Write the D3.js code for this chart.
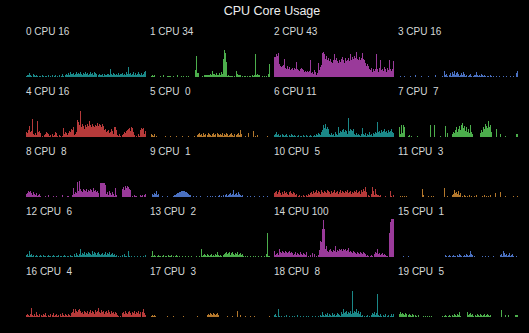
<!DOCTYPE html>
<html lang="en">
<head>
    <meta charset="utf-8">
    <title>CPU Core Usage</title>
    <script src="https://d3js.org/d3.v7.min.js"></script>
    <style>
        body{
            margin: 0;
            background: #000;
        }
        text{
            font-family: "Liberation Sans", Arial, sans-serif;
        }
    </style>
</head>
<body>
<div class="chart"></div>
<script>

    // one row per core, 120 samples each, percent busy
    var cpu0 = [3,6,4,11,5,3,0,8,4,2, 5,3,0,2,3,0,4,2,0,3, 2,0,4,0,3,1,5,0,2,6, 0,3,0,4,0,2,8,3,0,5,
        9,5,10,6,12,8,7,11,6,9, 13,8,10,7,12,9,6,11,8,13, 7,10,5,9,12,8,11,6,14,10, 9,0,4,8,6,5,9,3,8,6,
        4,7,9,6,22,8,5,10,7,4, 9,6,11,5,8,7,10,6,9,5, 12,8,26,7,11,5,9,13,6,10, 4,8,14,7,5,11,6,9,12,16];
    var cpu1 = [0,3,5,3,4,0,0,0,0,0, 3,0,0,5,0,0,0,3,3,3, 3,0,0,3,0,0,0,5,0,0, 0,3,0,3,0,0,3,0,3,0,
        0,0,0,0,0,18,55,10,10,0, 0,0,3,0,5,4,5,6,5,6, 8,5,15,7,8,5,10,5,4,10, 6,12,8,47,70,62,39,3,4,3,
        3,2,3,0,3,0,16,8,5,5, 5,0,3,0,3,3,0,3,0,3, 3,0,4,3,5,60,6,8,5,4, 0,0,3,0,3,0,3,0,8,34];
    var cpu2 = [52,52,60,55,62,34,30,26,28,31, 47,24,22,28,20,26,18,22,25,19, 23,21,39,20,18,16,22,24,20,18, 14,17,13,15,12,16,44,10,14,8,
        18,12,6,11,38,18,26,32,62,65, 60,48,55,44,50,42,47,40,38,45, 60,44,50,42,38,46,40,48,52,44, 38,49,42,46,50,41,60,45,52,48,
        55,50,66,48,44,52,46,50,64,48, 44,36,30,34,28,22,18,24,14,20, 16,22,60,20,14,24,46,18,22,16, 26,20,14,24,18,44,20,16,22,43];
    var cpu3 = [0,0,3,0,0,0,3,0,0,0, 0,0,3,0,0,0,0,5,0,0, 0,0,0,3,0,0,0,0,0,0, 3,0,0,0,0,0,0,5,0,0,
        0,0,0,0,3,0,17,5,8,3, 0,5,10,3,13,8,15,5,10,13, 8,3,5,10,6,13,8,3,5,0, 3,5,8,3,0,3,5,5,13,5,
        3,5,3,8,5,3,5,3,0,3, 3,0,5,3,0,3,0,0,3,0, 0,3,0,0,0,3,0,0,3,0, 0,0,3,0,0,3,0,0,10,16];
    var cpu4 = [13,10,18,29,13,16,47,8,5,10, 6,42,13,16,10,0,3,0,5,8, 13,10,8,3,5,0,8,3,5,13, 10,3,0,5,3,0,3,23,8,13,
        10,5,10,16,13,21,18,26,5,8, 13,44,39,31,68,26,34,29,21,31, 26,34,29,42,31,26,34,29,26,31, 28,36,29,34,31,26,34,29,18,21,
        13,16,18,10,13,21,16,8,26,26, 18,5,3,8,3,0,5,8,13,10, 16,18,21,23,16,26,23,13,5,0, 3,0,8,3,18,23,21,23,8,16];
    var cpu5 = [0,8,5,3,8,0,3,0,0,0, 0,0,0,0,0,3,0,0,0,0, 3,0,0,0,0,0,3,0,0,0, 0,0,3,0,0,0,0,0,3,0,
        0,0,0,0,3,0,0,5,8,10, 5,8,3,10,5,8,0,5,10,8, 5,3,8,10,5,8,0,10,8,5, 8,5,10,3,8,5,10,8,3,5,
        8,10,5,3,8,0,5,8,10,5, 18,8,0,0,0,3,0,0,10,0, 0,0,0,15,0,3,0,5,0,0, 0,0,0,0,0,0,0,3,0,0];
    var cpu6 = [5,8,13,5,8,3,5,0,8,5, 3,5,8,3,0,5,3,8,5,3, 5,3,0,3,5,0,3,3,0,5, 3,0,5,3,0,3,5,3,0,3,
        5,3,8,5,10,8,5,13,18,31, 23,34,21,26,21,8,5,10,5,8, 3,13,8,5,26,10,16,13,18,21, 13,18,16,8,49,16,21,18,16,21,
        8,5,10,5,8,5,3,8,23,8, 5,10,3,8,5,13,5,8,3,10, 8,13,10,39,13,16,10,18,13,16, 21,13,16,10,18,13,16,21,13,11];
    var cpu7 = [0,26,8,31,10,31,26,0,0,0, 3,5,0,3,0,0,0,0,0,3, 0,0,0,0,0,0,0,0,0,0, 0,0,31,0,0,0,31,0,0,0,
        0,0,3,0,0,0,0,29,0,10, 0,0,0,0,8,13,10,18,26,13, 21,29,18,31,36,23,29,16,26,13, 21,10,31,13,8,0,0,0,0,0,
        0,0,10,18,13,26,21,34,29,23, 42,26,31,13,0,0,0,0,21,0, 0,0,8,0,0,0,0,3,0,0, 0,0,0,0,0,0,0,0,8,7];
    var cpu8 = [8,10,16,13,16,10,5,13,8,5, 10,3,5,8,3,0,0,0,0,3, 0,0,5,0,0,0,0,3,0,0, 3,0,0,0,0,0,5,0,0,0,
        0,3,3,0,0,0,5,23,8,13, 10,39,16,42,21,16,13,21,18,16, 21,13,18,16,21,18,13,23,16,18, 13,16,10,0,36,36,36,36,36,31,
        8,13,5,16,10,5,13,8,3,23, 5,0,0,0,0,0,21,26,18,29, 23,29,26,21,18,0,3,0,5,3, 3,0,0,0,5,3,5,0,5,8];
    var cpu9 = [0,0,8,5,10,8,16,5,8,0, 0,0,3,0,0,0,0,3,0,0, 0,0,0,3,5,5,8,10,10,13, 13,16,16,16,16,13,13,10,8,5,
        5,0,0,3,0,0,3,0,0,0, 3,0,0,0,0,0,0,3,0,0, 3,0,3,0,0,3,0,0,3,5, 0,3,0,5,0,5,8,3,5,8,
        10,5,8,18,5,8,10,5,13,8, 5,3,5,0,0,0,0,3,0,0, 3,0,0,0,3,0,0,0,0,3, 0,0,0,3,0,0,0,3,0,1];
    var cpu10 = [10,13,16,8,13,18,10,5,13,8, 16,10,13,8,5,13,16,10,8,13, 10,5,8,0,3,5,0,3,0,5, 3,0,5,3,8,5,10,13,8,16,
        10,13,18,10,16,13,8,18,13,10, 16,13,10,18,16,13,8,16,10,13, 18,10,13,16,8,13,18,10,16,13, 10,16,13,18,10,13,16,8,13,10,
        16,13,18,10,13,16,8,18,13,21, 16,26,13,0,5,3,0,8,26,16, 5,21,8,5,5,3,5,0,0,0, 0,3,0,0,0,0,16,3,0,5];
    var cpu11 = [0,0,3,0,3,0,3,0,3,0, 0,0,0,0,0,0,0,0,0,0, 0,0,0,0,21,5,0,0,0,0, 3,0,0,3,0,3,0,0,0,0,
        0,0,0,0,0,0,23,0,0,3, 0,0,0,0,5,8,18,10,13,8, 16,5,10,0,3,0,5,3,0,3, 0,5,0,3,0,0,3,0,5,0,
        0,0,0,0,3,0,5,0,3,0, 3,0,5,0,0,0,0,10,0,0, 0,0,13,0,0,0,0,3,0,0, 0,0,0,0,0,3,0,0,0,3];
    var cpu12 = [5,8,3,16,5,8,3,5,0,3, 5,3,0,3,5,3,0,5,3,3, 0,3,5,3,3,0,3,5,3,0, 3,3,5,0,3,3,0,3,5,3,
        0,3,3,0,5,3,3,0,8,3, 10,5,3,8,21,5,10,8,13,5, 10,8,13,10,8,5,16,8,13,10, 5,10,13,8,5,8,10,5,8,13,
        5,10,8,13,5,8,10,5,8,3, 5,0,3,0,3,0,5,0,8,3, 3,0,16,3,0,3,0,0,3,0, 0,3,0,0,3,0,0,3,0,6];
    var cpu13 = [0,3,16,3,5,3,0,3,5,3, 3,0,3,5,0,3,3,0,5,3, 3,5,0,3,0,3,5,3,0,3, 0,0,3,0,0,3,0,0,3,0,
        0,3,0,0,0,0,3,0,0,3, 0,21,3,5,8,5,3,8,5,3, 5,8,3,5,3,8,5,13,5,3, 5,3,0,5,8,10,13,8,10,13,
        5,10,13,8,5,10,8,13,5,8, 10,5,8,3,0,3,0,3,0,0, 3,0,0,3,0,3,0,0,3,0, 0,3,0,0,3,0,8,62,3,2];
    var cpu14 = [16,5,8,10,5,21,13,10,16,13, 10,16,13,10,13,16,10,13,10,5, 8,13,5,10,8,5,13,8,5,10, 8,5,13,0,3,0,5,0,10,0,
        8,0,3,0,5,18,42,39,73,97, 73,21,29,16,13,18,21,16,13,18, 16,29,13,18,16,21,18,21,16,21, 18,21,16,18,23,13,16,13,10,16,
        13,10,8,13,10,8,13,10,8,13, 10,8,3,5,3,0,3,5,3,0, 8,13,10,21,8,10,5,8,10,5, 8,5,3,3,0,62,91,100,100,100];
    var cpu15 = [0,0,0,0,0,3,0,0,0,0, 3,0,0,0,0,0,0,0,0,0, 0,0,0,0,0,0,0,0,0,0, 0,0,0,0,0,0,0,0,0,0,
        0,0,0,0,0,0,0,5,3,0, 3,5,3,0,3,5,3,3,0,5, 3,8,5,3,0,3,5,3,8,5, 3,5,16,8,5,0,3,0,0,0,
        0,0,0,0,3,0,0,3,0,0, 3,0,0,0,0,3,0,0,0,0, 0,0,5,8,3,16,10,5,8,3, 5,10,3,5,8,3,0,0,3,1];
    var cpu16 = [5,8,5,3,8,23,5,3,8,3, 13,5,3,8,0,5,3,8,5,10, 3,0,5,3,8,0,5,10,3,5, 8,3,5,0,8,3,10,5,3,8,
        5,3,8,5,3,10,13,21,10,21, 16,13,18,21,16,10,13,8,16,13, 10,16,8,13,18,10,16,13,8,18, 13,16,23,13,10,18,13,16,8,13,
        16,10,18,13,8,16,10,13,8,13, 10,5,3,0,3,0,10,13,8,16, 10,8,13,16,10,5,13,10,16,8, 13,10,16,8,13,0,13,21,10,4];
    var cpu17 = [0,3,5,3,5,3,0,0,0,0, 0,0,0,0,0,0,0,3,0,0, 0,0,0,3,0,0,0,0,0,0, 0,0,0,3,0,0,0,0,0,0,
        0,0,0,0,0,0,0,3,0,0, 0,0,0,0,0,0,0,5,8,5, 10,8,5,10,8,5,8,10,5,0, 0,0,0,0,0,0,0,3,0,0,
        0,0,3,0,0,0,0,16,0,0, 5,0,0,0,0,3,0,0,0,0, 3,0,0,0,3,0,0,0,0,0, 0,0,0,0,0,0,0,0,0,3];
    var cpu18 = [5,8,3,0,21,3,0,3,0,0, 3,0,5,0,0,3,0,0,3,0, 3,0,0,5,0,0,3,0,0,3, 0,0,3,0,3,0,0,0,3,0,
        0,3,0,0,3,0,5,3,13,5, 3,8,5,10,3,8,5,3,10,5, 8,3,5,10,8,5,3,13,8,21, 10,13,16,8,13,10,16,8,68,10,
        16,13,21,10,16,8,13,3,5,0, 3,0,3,5,0,3,0,5,10,8, 13,5,10,60,5,3,8,3,0,5, 3,8,0,3,5,0,3,8,3,8];
    var cpu19 = [0,8,13,8,10,8,5,10,8,0, 5,8,5,3,8,5,0,5,3,0, 5,0,0,0,0,3,0,3,0,3, 0,3,0,3,0,0,0,0,0,0,
        0,0,0,0,3,0,3,5,3,0, 3,5,3,0,5,3,8,5,3,8, 5,13,3,0,0,0,0,0,0,13, 5,8,10,5,8,3,0,5,3,8,
        5,3,8,5,3,5,8,3,5,8, 5,3,5,0,0,0,0,0,0,0, 0,0,0,18,0,0,0,5,0,0, 5,0,0,0,0,0,0,5,5,5];

    var cores = [cpu0, cpu1, cpu2, cpu3, cpu4, cpu5, cpu6, cpu7, cpu8, cpu9,
                 cpu10, cpu11, cpu12, cpu13, cpu14, cpu15, cpu16, cpu17, cpu18, cpu19];

    // current reading shown next to each core name
    var readouts = [16, 34, 43, 16, 16, 0, 11, 7, 8, 1, 5, 3, 6, 2, 100, 1, 4, 3, 8, 5];

    var palette = ["#1b8888", "#4cae4c", "#9a3a9a", "#4a70c0", "#b63a3a", "#b4782c"];

    var width = 529;
    var height = 333;
    var cols = 4;
    var left = 26, pitchX = 124, panelW = 120;
    var firstBase = 77, pitchY = 60, panelH = 38;

    var svg = d3.select("div.chart")
        .append("svg")
        .attr("width", width)
        .attr("height", height)
        .style("display", "block")
        .style("background", "#000");

    svg.append("text")
        .attr("x", left + (cols * pitchX - (pitchX - panelW)) / 2)
        .attr("y", 15)
        .attr("text-anchor", "middle")
        .style("font-size", "12.5px")
        .style("fill", "#eeeeee")
        .text("CPU Core Usage");

    var x = d3.scaleBand()
        .domain(d3.range(cpu0.length))
        .range([0, panelW])
        .padding(0);

    var y = d3.scaleLinear()
        .domain([0, 100])
        .range([panelH, 0]);

    var panels = svg.selectAll("g.core")
        .data(cores)
        .enter()
        .append("g")
        .attr("class", "core")
        .attr("transform", function(d, i){
            var c = i % cols, r = Math.floor(i / cols);
            return "translate(" + (left + c * pitchX) + "," + (firstBase - panelH + r * pitchY) + ")";
        });

    panels.append("text")
        .attr("x", 0)
        .attr("y", -4.5)
        .style("font-size", "10px")
        .style("fill", "#d4d8d8")
        .style("white-space", "pre")
        .text(function(d, i){ return i + " CPU " + String(readouts[i]).padStart(2, " "); });

    panels.each(function(d, i){
        d3.select(this).selectAll("rect")
            .data(d)
            .enter()
            .append("rect")
            .attr("x", function(v, j){ return x(j); })
            .attr("y", function(v){ return y(v); })
            .attr("width", x.bandwidth())
            .attr("height", function(v){ return panelH - y(v); })
            .attr("shape-rendering", "crispEdges")
            .style("fill", palette[i % palette.length]);
    });
</script>
</body>
</html>
